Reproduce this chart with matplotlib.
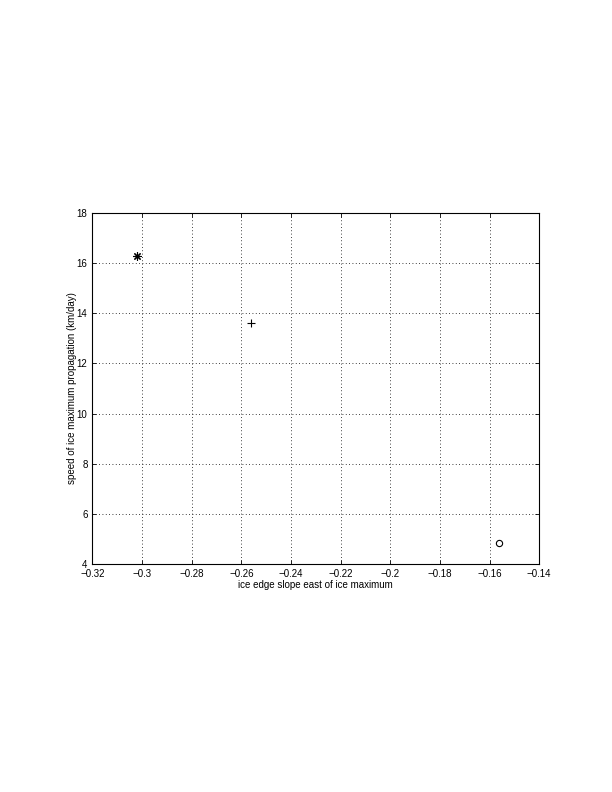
import matplotlib.pyplot as plt
import numpy as np

plt.rcParams['font.family'] = ['Liberation Sans', 'DejaVu Sans']
plt.rcParams['axes.unicode_minus'] = True

slope = [-0.302, -0.256, -0.156]
speed = [16.3, 13.6, 4.83]
markers = [(8, 2, 0), '+', 'o']

xticks = np.arange(-0.32, -0.139, 0.02)
yticks = np.arange(4, 19, 2)

fig = plt.figure(figsize=(6.12, 7.92), dpi=100)
ax = fig.add_axes([0.151, 0.288, 0.730, 0.443])

for x, y, m in zip(slope, speed, markers):
    if m == 'o':
        ax.plot(x, y, m, color='black', markerfacecolor='none', markersize=4.5, markeredgewidth=0.8)
    else:
        ax.plot(x, y, marker=m, linestyle='none', color='black', markersize=6, markeredgewidth=0.8)

ax.set_xlim(-0.32, -0.14)
ax.set_ylim(4, 18)
ax.set_xticks(xticks)
ax.set_yticks(yticks)
ax.set_xticklabels([('%g' % round(v, 2)).replace('-', '\u2212') for v in xticks])
ax.set_yticklabels(['%d' % v for v in yticks])
ax.tick_params(labelsize=7, direction='in', top=True, right=True, length=3, width=0.6)
ax.grid(True, color='black', linestyle=(0, (1, 3)), linewidth=0.6)

for s in ax.spines.values():
    s.set_linewidth(0.8)

ax.set_xlabel('ice edge slope east of ice maximum', fontsize=7, labelpad=1)
ax.set_ylabel('speed of ice maximum propagation (km/day)', fontsize=7, labelpad=0)

fig.savefig('out.png', dpi=100)
